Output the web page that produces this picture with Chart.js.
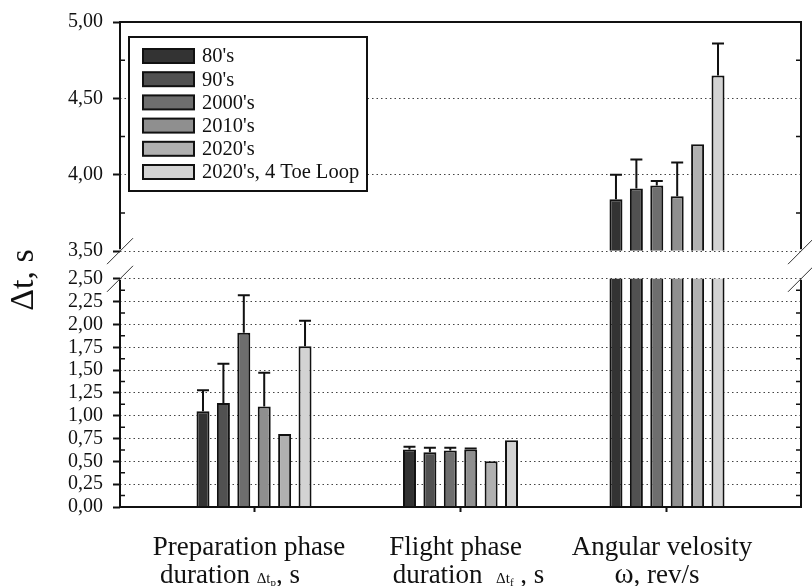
<!DOCTYPE html>
<html>
<head>
<meta charset="utf-8">
<title>Δt by decade</title>
<script src="https://cdn.jsdelivr.net/npm/chart.js@4.4.0/dist/chart.umd.min.js"></script>
<style>
  html, body { margin: 0; padding: 0; background: #fff; }
  #wrap { width: 812px; height: 586px; }
</style>
</head>
<body>
<div id="wrap"><canvas id="chart" width="812" height="586"></canvas></div>
<script>
// categories on the x axis (second line of each label is drawn in parts below)
const categories = ['Preparation phase', 'Flight phase', 'Angular velosity'];
const seriesNames = ["80's", "90's", "2000's", "2010's", "2020's", "2020's, 4 Toe Loop"];

// mean values per series: [preparation, flight, angular velocity]
const vals80s    = [1.05, 0.63, 3.84];
const vals90s    = [1.14, 0.60, 3.91];
const vals2000s  = [1.91, 0.62, 3.93];
const vals2010s  = [1.10, 0.63, 3.86];
const vals2020s  = [0.80, 0.50, 4.20];
const vals2020s4T = [1.76, 0.73, 4.65];

// upper error bars
const err80s    = [0.23, 0.03, 0.16];
const err90s    = [0.43, 0.05, 0.19];
const err2000s  = [0.41, 0.03, 0.03];
const err2010s  = [0.37, 0.01, 0.22];
const err2020s  = [0, 0, 0];
const err2020s4T = [0.28, 0, 0.21];

const values = [vals80s, vals90s, vals2000s, vals2010s, vals2020s, vals2020s4T];
const errors = [err80s, err90s, err2000s, err2010s, err2020s, err2020s4T];

// axis ticks (broken axis)
const lowerTicks = [0, 0.25, 0.5, 0.75, 1, 1.25, 1.5, 1.75, 2, 2.25, 2.5];
const upperTicks = [3.5, 4, 4.5, 5];
const LOWER_MAX = 2.5;
const BREAK_HI = 3.5;
const UPPER_MAX = 5;

// second label line, split into runs of different size
const line2Parts = [
  [['duration ', 'big'], ['Δt', 'small'], ['p', 'sub'], [', s', 'big']],
  [['duration  ', 'big'], ['Δt', 'small'], ['f', 'sub'], [' , s', 'big']],
  [['ω', 'omega'], [', rev/s', 'big']]
];
const line2Shift = [-24, 8, -10];

const colors = ['#333333', '#515151', '#6e6e6e', '#8f8f8f', '#b0b0b0', '#d3d3d3'];
const SERIF = "'Liberation Serif', 'Times New Roman', serif";
const GAP_UNITS = 0.181;   // white gap between the two axis parts, in upper units
const X_PAD = 0.649;       // room left/right of the outer groups

const fmt = v => v.toFixed(2).replace('.', ',');
const mids = arr => arr.slice(1).map((v, i) => (v + arr[i]) / 2);

const datasets = [];
seriesNames.forEach((name, s) => {
  datasets.push({
    label: name,
    data: values[s].map((v, i) => ({ x: i + 1, y: v > LOWER_MAX ? LOWER_MAX + 0.1 : v })),
    yAxisID: 'y',
    stack: name,
    backgroundColor: colors[s],
    borderColor: '#111',
    borderWidth: 2
  });
});
seriesNames.forEach((name, s) => {
  datasets.push({
    label: name + ' upper',
    data: values[s].map((v, i) => ({ x: i + 1, y: v > BREAK_HI ? v : null })),
    yAxisID: 'yTop',
    stack: name,
    base: BREAK_HI,
    backgroundColor: colors[s],
    borderColor: '#111',
    borderWidth: 2
  });
});

const yTickFont = { family: SERIF, size: 20 };

const brokenAxis = {
  id: 'brokenAxis',
  afterDatasetsDraw(chart) {
    const { ctx, chartArea: a, scales } = chart;
    // error bars
    ctx.save();
    ctx.strokeStyle = '#111';
    ctx.lineWidth = 2;
    values.forEach((vals, s) => {
      vals.forEach((v, i) => {
        const e = errors[s][i];
        if (!e) return;
        const upper = v > BREAK_HI;
        const bar = chart.getDatasetMeta(upper ? s + seriesNames.length : s).data[i];
        const yEnd = (upper ? scales.yTop : scales.y).getPixelForValue(v + e);
        const half = 6;
        ctx.beginPath();
        ctx.moveTo(bar.x, bar.y);
        ctx.lineTo(bar.x, yEnd);
        ctx.moveTo(bar.x - half, yEnd);
        ctx.lineTo(bar.x + half, yEnd);
        ctx.stroke();
      });
    });
    // white gap of the break
    const yHi = scales.yTop.getPixelForValue(BREAK_HI);
    const yLo = scales.y.getPixelForValue(LOWER_MAX);
    ctx.fillStyle = '#fff';
    ctx.fillRect(a.left + 1, yHi + 1, a.right - a.left - 2, yLo - yHi - 2);
    ctx.restore();
  },
  afterDraw(chart) {
    const { ctx, chartArea: a, scales } = chart;
    const yHi = scales.yTop.getPixelForValue(BREAK_HI);
    const yLo = scales.y.getPixelForValue(LOWER_MAX);
    ctx.save();
    // frame
    ctx.strokeStyle = '#111';
    ctx.lineWidth = 2;
    ctx.beginPath();
    ctx.moveTo(a.left, a.top); ctx.lineTo(a.right, a.top);
    ctx.moveTo(a.left - 1, a.bottom); ctx.lineTo(a.right + 1, a.bottom);
    [a.left, a.right].forEach(x => {
      ctx.moveTo(x, a.top - 1); ctx.lineTo(x, yHi - 2);
      ctx.moveTo(x, yLo + 1); ctx.lineTo(x, a.bottom);
    });
    ctx.stroke();
    // break slashes
    ctx.lineWidth = 1;
    ctx.strokeStyle = '#333';
    ctx.beginPath();
    [a.left, a.right].forEach(x => {
      [yHi, yLo].forEach(y => {
        ctx.moveTo(x - 13, y + 13);
        ctx.lineTo(x + 13, y - 13);
      });
    });
    ctx.stroke();
    // minor ticks, pointing inward on both sides
    ctx.lineWidth = 1.5;
    ctx.strokeStyle = '#111';
    ctx.beginPath();
    [[scales.y, mids(lowerTicks)], [scales.yTop, mids(upperTicks)]].forEach(([sc, list]) => {
      list.forEach(v => {
        const y = sc.getPixelForValue(v);
        ctx.moveTo(a.left, y); ctx.lineTo(a.left + 5, y);
        ctx.moveTo(a.right, y); ctx.lineTo(a.right - 5, y);
      });
    });
    ctx.stroke();

    // legend box
    const lx = a.left + 9, ly = a.top + 15, lw = 238, lh = 154;
    ctx.fillStyle = '#fff';
    ctx.fillRect(lx, ly, lw, lh);
    ctx.lineWidth = 2;
    ctx.strokeStyle = '#111';
    ctx.strokeRect(lx, ly, lw, lh);
    ctx.font = `20.5px ${SERIF}`;
    ctx.textBaseline = 'middle';
    ctx.textAlign = 'left';
    seriesNames.forEach((name, k) => {
      const cy = ly + 19 + k * 23.2;
      ctx.fillStyle = colors[k];
      ctx.fillRect(lx + 14, cy - 7, 51, 14);
      ctx.strokeRect(lx + 14, cy - 7, 51, 14);
      ctx.fillStyle = '#111';
      ctx.fillText(name, lx + 73, cy + 1);
    });

    // y axis title
    ctx.save();
    ctx.translate(24, 280);
    ctx.rotate(-Math.PI / 2);
    ctx.font = `34px ${SERIF}`;
    ctx.textAlign = 'center';
    ctx.textBaseline = 'middle';
    ctx.fillText('Δt, s', 0, 0);
    ctx.restore();

    // x labels
    const fonts = {
      big: [`27px ${SERIF}`, 0],
      small: [`15px ${SERIF}`, 0],
      sub: [`11px ${SERIF}`, 3],
      omega: [`29px ${SERIF}`, 0]
    };
    ctx.textBaseline = 'alphabetic';
    ctx.fillStyle = '#111';
    categories.forEach((cat, i) => {
      const cx = scales.x.getPixelForValue(i + 1);
      ctx.font = fonts.big[0];
      ctx.textAlign = 'center';
      ctx.fillText(cat, cx - 5, a.bottom + 48);
      const parts = line2Parts[i];
      let total = 0;
      parts.forEach(([t, f]) => { ctx.font = fonts[f][0]; total += ctx.measureText(t).width; });
      let x = cx - total / 2 + line2Shift[i];
      ctx.textAlign = 'left';
      parts.forEach(([t, f]) => {
        ctx.font = fonts[f][0];
        ctx.fillText(t, x, a.bottom + 76 + fonts[f][1]);
        x += ctx.measureText(t).width;
      });
    });
    ctx.restore();
  }
};

const yScaleBase = (ticks) => ({
  type: 'linear',
  position: 'left',
  stack: 'dt',
  stacked: false,
  z: 1,
  afterBuildTicks: s => { s.ticks = ticks.map(v => ({ value: v })); },
  afterFit: s => { s.width = 120; },
  ticks: { font: yTickFont, color: '#111', padding: 10, autoSkip: false, callback: v => fmt(v) },
  grid: { color: '#444', lineWidth: 1, tickLength: 7, tickColor: '#111', tickWidth: 2 },
  border: { display: false, dash: [1.5, 3] }
});

new Chart(document.getElementById('chart'), {
  type: 'bar',
  data: { datasets },
  plugins: [brokenAxis],
  options: {
    responsive: false,
    animation: false,
    categoryPercentage: 0.593,
    barPercentage: 0.637,
    layout: { padding: { top: 16, right: 11, left: 0, bottom: 0 } },
    plugins: { legend: { display: false }, tooltip: { enabled: false } },
    scales: {
      x: {
        type: 'linear',
        min: 1 - X_PAD,
        max: categories.length + X_PAD,
        offset: false,
        afterBuildTicks: s => { s.ticks = categories.map((c, i) => ({ value: i + 1 })); },
        afterFit: s => { s.height = 79; },
        ticks: { display: false },
        grid: { drawOnChartArea: false, offset: false, tickLength: 5, tickColor: '#111', tickWidth: 2 },
        border: { display: false }
      },
      y: Object.assign(yScaleBase(lowerTicks), { min: 0, max: LOWER_MAX, stackWeight: 231 }),
      yTop: Object.assign(yScaleBase(upperTicks), { min: BREAK_HI - GAP_UNITS, max: UPPER_MAX, stackWeight: 260 })
    }
  }
});
</script>
</body>
</html>
